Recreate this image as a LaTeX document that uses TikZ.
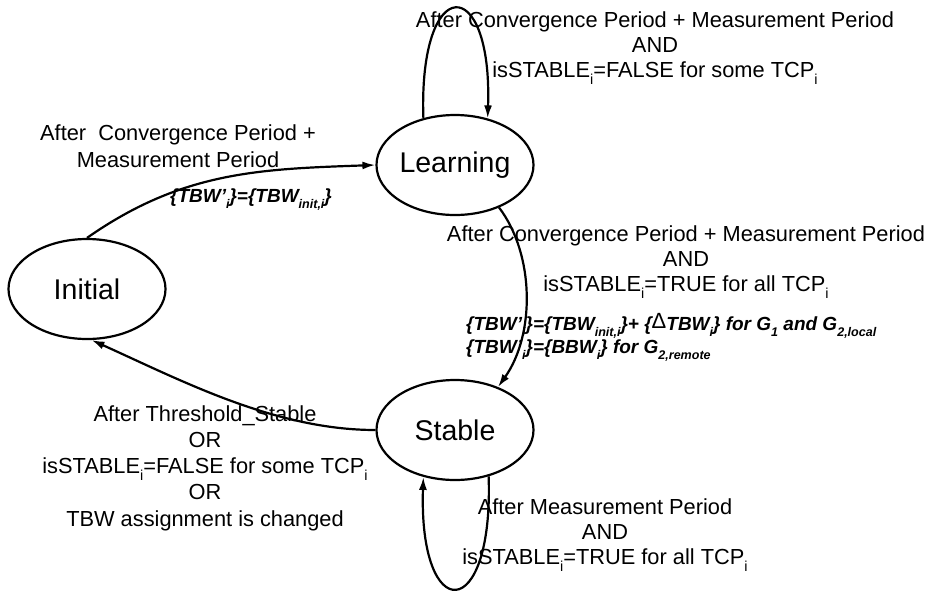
\documentclass[tikz,border=0pt]{standalone}
\usepackage{fontspec}
\setmainfont{Liberation Sans}
\usetikzlibrary{shapes.geometric,arrows.meta}
\newcommand{\dlt}{\raisebox{.12em}{\mdseries\upshape\fontsize{22}{22}\selectfont Δ}}
\newcommand{\sbs}[1]{\raisebox{-0.32em}{\scalebox{0.66}{#1}}}
\begin{document}
\begin{tikzpicture}[x=1pt,y=1pt,
  state/.style={draw, ellipse, line width=2.2pt, minimum width=157pt, minimum height=100pt, inner sep=0pt, font=\fontsize{28.5}{30}\selectfont},
  conn/.style={line width=2.2pt, -{Latex[length=13pt,width=8pt]}},
  lbl/.style={align=center, font=\fontsize{21.8}{25}\selectfont, inner sep=0pt},
  blbl/.style={align=left, font=\fontsize{19}{21}\selectfont\bfseries\itshape, inner sep=0pt}]
\useasboundingbox (0,0) rectangle (931,-592);
\fill[white] (0,0) rectangle (931,-592);

\node[state] (I) at (87,-289) {Initial};
\node[state] (L) at (455,-165) {Learning};
\node[state] (S) at (455,-430) {Stable};

\draw[conn] (I.north) to[out=35,in=182] (L.west);
\draw[conn] (L.124) .. controls +(-5,146) and +(5,146) .. (L.55);
\draw[conn] (L.-44) .. controls (535,-255) and (535,-335) .. (S.45);
\draw[conn] (S.west) .. controls +(-100,0) and +(91,-41) .. (I.-85);
\draw[conn] (S.-54) .. controls +(5,-149) and +(-5,-149) .. (S.-124);

\node[lbl] (t1) at (655,-48) {After Convergence Period + Measurement Period\\AND\\isSTABLE\sbs{i}=FALSE for some TCP\sbs{i}};
\node[lbl, font=\fontsize{21.8}{27}\selectfont] (t2) at (178,-146) {After\ \ Convergence Period +\\Measurement Period};
\node[blbl] (t3) at (251,-200) {\{TBW'\sbs{i}\}=\{TBW\sbs{init,i}\}};
\node[lbl] (t4) at (686,-262) {After Convergence Period + Measurement Period\\AND\\isSTABLE\sbs{i}=TRUE for all TCP\sbs{i}};
\node[blbl, anchor=west] (t5) at (466,-337) {\{TBW'\sbs{i}\}=\{TBW\sbs{init,i}\}+ \{\dlt TBW\sbs{i}\} for G\sbs{1} and G\sbs{2,local}\\\{TBW'\sbs{i}\}=\{BBW\sbs{i}\} for G\sbs{2,remote}};
\node[lbl] (t6) at (605,-535) {After Measurement Period\\AND\\isSTABLE\sbs{i}=TRUE for all TCP\sbs{i}};
\node[lbl, font=\fontsize{21.8}{26.3}\selectfont] (t7) at (205,-468) {After Threshold\_Stable\\OR\\isSTABLE\sbs{i}=FALSE for some TCP\sbs{i}\\OR\\TBW assignment is changed};
\end{tikzpicture}
\end{document}
